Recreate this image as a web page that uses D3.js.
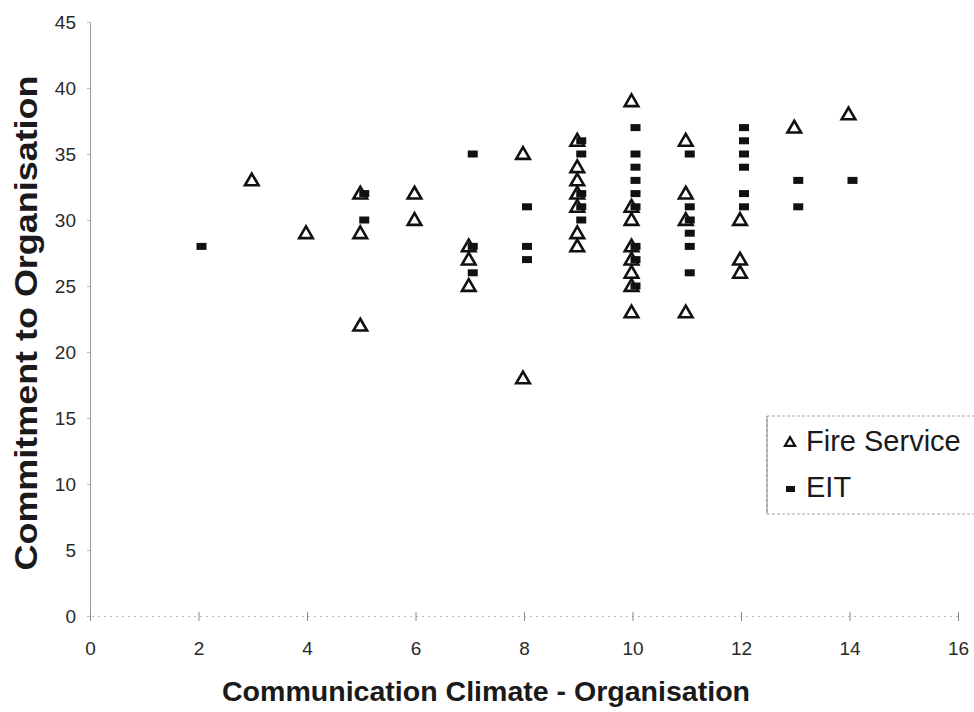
<!DOCTYPE html>
<html>
<head>
<meta charset="utf-8">
<script src="https://cdn.jsdelivr.net/npm/d3@7"></script>
<style>
  html, body { margin: 0; padding: 0; background: #fff; }
  svg { display: block; }
</style>
</head>
<body>
<svg id="chart" width="974" height="712"></svg>
<script>
// ---- Data ----
const fireServiceX = [3, 4, 5, 5, 5, 6, 6, 7, 7, 7, 8, 8,
  9, 9, 9, 9, 9, 9, 9,
  10, 10, 10, 10, 10, 10, 10, 10,
  11, 11, 11, 11,
  12, 12, 12, 13, 14];
const fireServiceY = [33, 29, 32, 29, 22, 32, 30, 28, 27, 25, 35, 18,
  36, 34, 33, 32, 31, 29, 28,
  39, 31, 30, 28, 27, 26, 25, 23,
  36, 32, 30, 23,
  30, 27, 26, 37, 38];
const eitX = [2, 5, 5, 7, 7, 7, 8, 8, 8,
  9, 9, 9, 9, 9,
  10, 10, 10, 10, 10, 10, 10, 10, 10,
  11, 11, 11, 11, 11, 11,
  12, 12, 12, 12, 12, 12,
  13, 13, 14];
const eitY = [28, 32, 30, 35, 28, 26, 31, 28, 27,
  36, 35, 32, 31, 30,
  37, 35, 34, 33, 32, 31, 28, 27, 25,
  35, 31, 30, 29, 28, 26,
  37, 36, 35, 34, 32, 31,
  33, 31, 33];
const xTicks = [0, 2, 4, 6, 8, 10, 12, 14, 16];
const yTicks = [0, 5, 10, 15, 20, 25, 30, 35, 40, 45];
const seriesNames = ["Fire Service", "EIT"];
const xTitle = "Communication Climate - Organisation";
const yTitle = "Commitment to Organisation";

// ---- Layout ----
const svg = d3.select("#chart");
const pLeft = 90, pRight = 958, pTop = 22, pBottom = 616;
const x = d3.scaleLinear().domain([0, 16]).range([pLeft, pRight]);
const y = d3.scaleLinear().domain([0, 45]).range([pBottom, pTop]);
const labelFont = "Liberation Sans, Arial, sans-serif";

// Y axis
const yAxis = svg.append("g").attr("transform", `translate(${pLeft},0)`)
  .call(d3.axisLeft(y).tickValues(yTicks).tickSize(3).tickPadding(11));
yAxis.select(".domain").attr("stroke", "#9a9a9a").attr("stroke-width", 1);
yAxis.selectAll(".tick line").attr("stroke", "#bbb");
yAxis.selectAll(".tick text").attr("font-family", labelFont)
  .style("font-size", "19px").attr("fill", "#2a2a2a");

// X axis
const xAxis = svg.append("g").attr("transform", `translate(0,${pBottom})`)
  .call(d3.axisBottom(x).tickValues(xTicks).tickSize(5).tickPadding(21));
xAxis.select(".domain").attr("stroke", "#bbb").attr("stroke-width", 1)
  .attr("stroke-dasharray", "2,4");
xAxis.selectAll(".tick line").attr("stroke", "#888").attr("y1", -4);
xAxis.selectAll(".tick text").attr("font-family", labelFont)
  .style("font-size", "19px").attr("fill", "#2a2a2a");

// Titles
svg.append("text")
  .attr("transform", `translate(37,323) rotate(-90)`)
  .attr("text-anchor", "middle")
  .attr("font-family", labelFont)
  .attr("font-weight", "bold").attr("font-size", 31).attr("fill", "#1a1a1a")
  .attr("textLength", 495).attr("lengthAdjust", "spacingAndGlyphs")
  .text(yTitle);
svg.append("text")
  .attr("x", 486).attr("y", 701)
  .attr("text-anchor", "middle")
  .attr("font-family", labelFont)
  .attr("font-weight", "bold").attr("font-size", 28).attr("fill", "#1a1a1a")
  .attr("textLength", 528).attr("lengthAdjust", "spacingAndGlyphs")
  .text(xTitle);

// Markers
const tri = d3.symbol().type(d3.symbolTriangle).size(80);
const fs = fireServiceX.map((v, i) => ({x: v, y: fireServiceY[i]}));
const eit = eitX.map((v, i) => ({x: v, y: eitY[i]}));

svg.append("g").selectAll("rect").data(eit).join("rect")
  .attr("x", d => x(d.x) + 3 - 5).attr("y", d => y(d.y) - 3.5)
  .attr("width", 10).attr("height", 7).attr("fill", "#111");

svg.append("g").selectAll("path").data(fs).join("path")
  .attr("d", tri)
  .attr("transform", d => `translate(${x(d.x) - 1},${y(d.y) + 1})`)
  .attr("fill", "none").attr("stroke", "#111").attr("stroke-width", 2.6);

// Legend
const lg = svg.append("g");
lg.append("rect").attr("x", 767).attr("y", 416).attr("width", 210).attr("height", 98)
  .attr("fill", "#fff").attr("stroke", "#aaa").attr("stroke-width", 1)
  .attr("stroke-dasharray", "3,2");
lg.append("line").attr("x1", 767).attr("x2", 767).attr("y1", 416).attr("y2", 514)
  .attr("stroke", "#888").attr("stroke-width", 1);
lg.append("path").attr("d", d3.symbol().type(d3.symbolTriangle).size(45))
  .attr("transform", "translate(790,443)")
  .attr("fill", "none").attr("stroke", "#111").attr("stroke-width", 2.2);
lg.append("text").attr("x", 806).attr("y", 451)
  .attr("font-family", labelFont).attr("font-size", 29)
  .attr("fill", "#1a1a1a").text(seriesNames[0]);
lg.append("rect").attr("x", 786).attr("y", 486).attr("width", 9).attr("height", 6).attr("fill", "#111");
lg.append("text").attr("x", 806).attr("y", 497)
  .attr("font-family", labelFont).attr("font-size", 29)
  .attr("fill", "#1a1a1a").text(seriesNames[1]);
</script>
</body>
</html>
